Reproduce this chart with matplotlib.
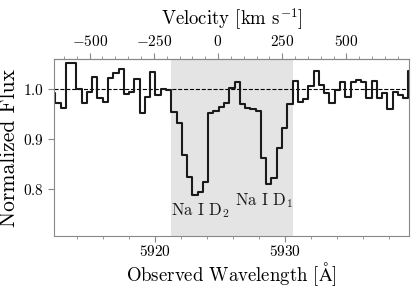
import numpy as np
import matplotlib
matplotlib.use('Agg')
import matplotlib.pyplot as plt

plt.rcParams['font.family'] = 'serif'
plt.rcParams['font.serif'] = ['cmr10']
plt.rcParams['mathtext.fontset'] = 'cm'
plt.rcParams['axes.formatter.use_mathtext'] = True

# bin centres (observed wavelength, Angstrom) and normalized flux
wave = [5912.12, 5912.53, 5912.93, 5913.34, 5913.75, 5914.15, 5914.56, 5914.96,
        5915.37, 5915.77, 5916.18, 5916.59, 5916.99, 5917.40, 5917.80, 5918.21,
        5918.61, 5919.02, 5919.43, 5919.83, 5920.24, 5920.64, 5921.05, 5921.46,
        5921.86, 5922.27, 5922.67, 5923.08, 5923.48, 5923.89, 5924.30, 5924.70,
        5925.11, 5925.51, 5925.92, 5926.32, 5926.73, 5927.14, 5927.54, 5927.95,
        5928.35, 5928.76, 5929.16, 5929.57, 5929.98, 5930.38, 5930.79, 5931.19,
        5931.60, 5932.00, 5932.41, 5932.82, 5933.22, 5933.63, 5934.03, 5934.44,
        5934.85, 5935.25, 5935.66, 5936.06, 5936.47, 5936.87, 5937.28, 5937.69,
        5938.09, 5938.50, 5938.90, 5939.31, 5939.71]
flux = [0.993, 0.973, 0.963, 1.053, 1.052, 1.001, 0.973, 0.995,
        1.025, 0.983, 0.974, 1.023, 1.032, 1.041, 0.990, 0.995,
        1.020, 0.952, 0.985, 1.035, 0.989, 1.001, 0.999, 0.955,
        0.933, 0.869, 0.825, 0.789, 0.795, 0.814, 0.953, 0.957,
        0.965, 0.972, 1.002, 1.015, 0.971, 0.962, 0.961, 0.957,
        0.862, 0.811, 0.822, 0.882, 0.922, 0.971, 1.016, 0.974,
        0.981, 1.006, 1.036, 1.009, 0.992, 0.972, 0.998, 1.014,
        0.985, 1.015, 1.018, 1.015, 0.983, 1.017, 0.983, 0.993,
        0.961, 0.994, 0.988, 0.982, 1.036]

lam0 = 5924.85          # zero velocity
c_kms = 299792.458
region = (5921.23, 5930.62)
lines = [('Na I D$_2$', 5923.5, 0.748), ('Na I D$_1$', 5928.4, 0.769)]

fig = plt.figure(figsize=(4.16, 2.89), dpi=100)
ax = fig.add_axes([0.130, 0.183, 0.854, 0.613])

ax.axvspan(region[0], region[1], color='#e4e4e4', lw=0, zorder=0)
ax.axhline(1.0, color='k', ls='--', lw=0.8, zorder=1)
ax.step(wave, flux, where='mid', color='#1a1a1a', lw=1.5, zorder=2)

for name, x, y in lines:
    ax.text(x, y, name, ha='center', va='baseline', fontsize=12, color='#1a1a1a')

ax.set_xlim(5912.23, 5939.58)
ax.set_ylim(0.7066, 1.0606)
ax.set_xticks([5920, 5930])
ax.set_xticks(np.arange(5914, 5940, 2), minor=True)
ax.set_yticks([0.8, 0.9, 1.0])
ax.set_xlabel(r'Observed Wavelength [$\mathrm{\AA}$]', fontsize=13.5, labelpad=1)
ax.set_ylabel('Normalized Flux', fontsize=15.5, labelpad=3)

for s in ax.spines.values():
    s.set_color('#888888')
ax.tick_params(which='both', direction='out', color='#888888', labelsize=11,
               top=False, right=False)
ax.tick_params(which='major', length=4)
ax.tick_params(which='minor', length=2.5)
ax.tick_params(axis='x', pad=1.5)

sec = ax.secondary_xaxis('top', functions=(lambda l: (l - lam0) / lam0 * c_kms,
                                           lambda v: lam0 * (1 + v / c_kms)))
sec.set_xticks([-500, -250, 0, 250, 500])
sec.set_xticks(np.arange(-650, 800, 50), minor=True)
sec.tick_params(which='both', direction='out', color='#888888', labelsize=11)
sec.tick_params(which='major', length=4)
sec.tick_params(which='minor', length=2.5)
sec.spines['top'].set_color('#888888')
sec.set_xlabel(r'Velocity [km s$^{-1}$]', fontsize=13.5, labelpad=6)

fig.savefig('out.png', dpi=100)
